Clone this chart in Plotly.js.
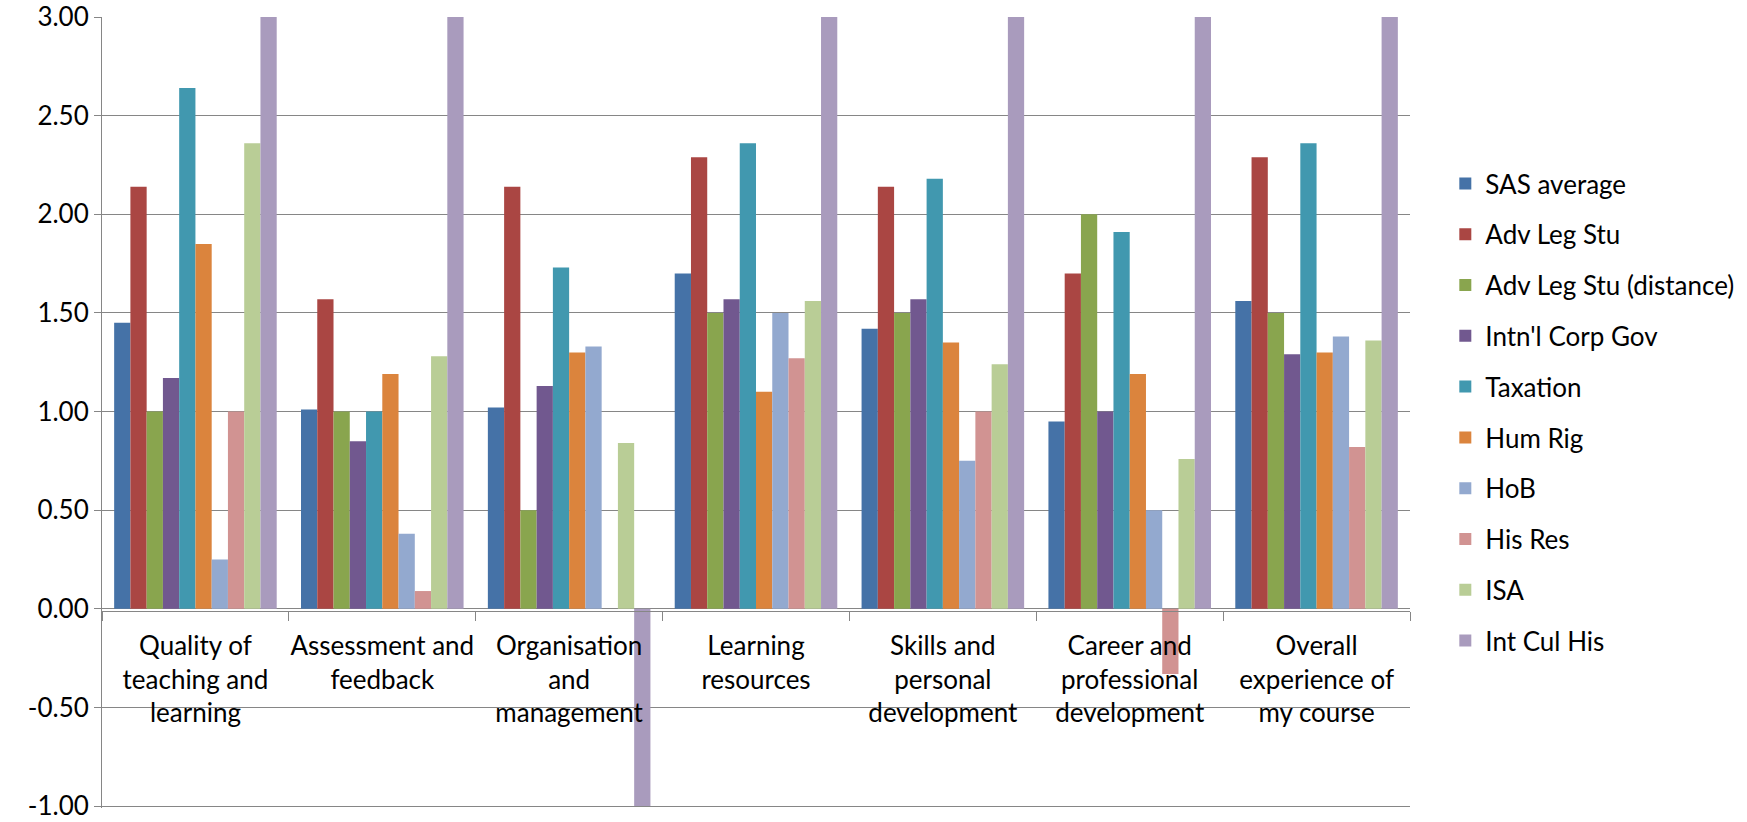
<!DOCTYPE html>
<html>
<head>
<meta charset="utf-8">
<script src="https://cdn.plot.ly/plotly-3.0.1.min.js"></script>
<style>
  html, body { margin: 0; padding: 0; background: #fff; }
  #chart { width: 1747px; height: 822px; }
</style>
</head>
<body>
<div id="chart"></div>
<script>
const categories = [
  "Quality of<br>teaching and<br>learning",
  "Assessment and<br>feedback",
  "Organisation<br>and<br>management",
  "Learning<br>resources",
  "Skills and<br>personal<br>development",
  "Career and<br>professional<br>development",
  "Overall<br>experience of<br>my course"
];

const seriesNames = [
  "SAS average", "Adv Leg Stu", "Adv Leg Stu (distance)", "Intn'l Corp Gov",
  "Taxation", "Hum Rig", "HoB", "His Res", "ISA", "Int Cul His"
];

const sasAverage   = [1.45, 1.01, 1.02, 1.70, 1.42, 0.95, 1.56];
const advLegStu    = [2.14, 1.57, 2.14, 2.29, 2.14, 1.70, 2.29];
const advLegStuDist= [1.00, 1.00, 0.50, 1.50, 1.50, 2.00, 1.50];
const intnlCorpGov = [1.17, 0.85, 1.13, 1.57, 1.57, 1.00, 1.29];
const taxation     = [2.64, 1.00, 1.73, 2.36, 2.18, 1.91, 2.36];
const humRig       = [1.85, 1.19, 1.30, 1.10, 1.35, 1.19, 1.30];
const hoB          = [0.25, 0.38, 1.33, 1.50, 0.75, 0.50, 1.38];
const hisRes       = [1.00, 0.09, 0.00, 1.27, 1.00, -0.33, 0.82];
const isa          = [2.36, 1.28, 0.84, 1.56, 1.24, 0.76, 1.36];
const intCulHis    = [3.00, 3.00, -1.00, 3.00, 3.00, 3.00, 3.00];

const seriesValues = [sasAverage, advLegStu, advLegStuDist, intnlCorpGov,
  taxation, humRig, hoB, hisRes, isa, intCulHis];

const colors = ["#4572A7", "#AA4643", "#89A54E", "#71588F", "#4198AF",
  "#DB843D", "#93A9CF", "#D19392", "#B9CD96", "#A99BBD"];

const yTickVals = [-1, -0.5, 0, 0.5, 1, 1.5, 2, 2.5, 3];
const yTickText = ["-1.00", "-0.50", "0.00", "0.50", "1.00", "1.50", "2.00", "2.50", "3.00"];

const FONT = "Lato, 'Open Sans', sans-serif";

const traces = seriesNames.map((name, i) => ({
  type: "bar",
  name: name,
  x: categories,
  y: seriesValues[i],
  legendgroup: "g" + i,
  marker: { color: colors[i], line: { width: 0 } },
  hoverinfo: "name+y"
}));

const layout = {
  width: 1747,
  height: 822,
  margin: { l: 102, r: 337, t: 17, b: 14, autoexpand: false },
  paper_bgcolor: "#ffffff",
  plot_bgcolor: "#ffffff",
  font: { family: FONT, size: 26, color: "#000000" },
  barmode: "group",
  bargap: 0.13,
  bargroupgap: 0,
  showlegend: true,
  legend: {
    xref: "paper", yref: "paper",
    x: 1.027, y: 0.5, xanchor: "left", yanchor: "middle",
    font: { family: FONT, size: 26, color: "#000000" },
    tracegroupgap: 14,
    bgcolor: "rgba(0,0,0,0)",
    borderwidth: 0
  },
  xaxis: {
    type: "category",
    anchor: "free",
    position: 0.2495,
    showline: true,
    linecolor: "#868686",
    linewidth: 1,
    showgrid: false,
    zeroline: false,
    ticks: "outside",
    tickson: "boundaries",
    ticklen: 9,
    tickcolor: "#868686",
    tickangle: 0,
    ticklabelstandoff: 12,
    tickfont: { family: FONT, size: 26, color: "#000000" },
    automargin: false,
    fixedrange: true
  },
  yaxis: {
    range: [-1.01, 3.0005],
    tickvals: yTickVals,
    ticktext: yTickText,
    showline: true,
    linecolor: "#868686",
    linewidth: 1,
    showgrid: true,
    gridcolor: "#868686",
    gridwidth: 1,
    zeroline: false,
    ticks: "outside",
    ticklen: 7,
    tickcolor: "#868686",
    tickfont: { family: FONT, size: 26, color: "#000000" },
    automargin: false,
    fixedrange: true
  }
};

Plotly.newPlot("chart", traces, layout, { displayModeBar: false, staticPlot: true });
</script>
</body>
</html>
